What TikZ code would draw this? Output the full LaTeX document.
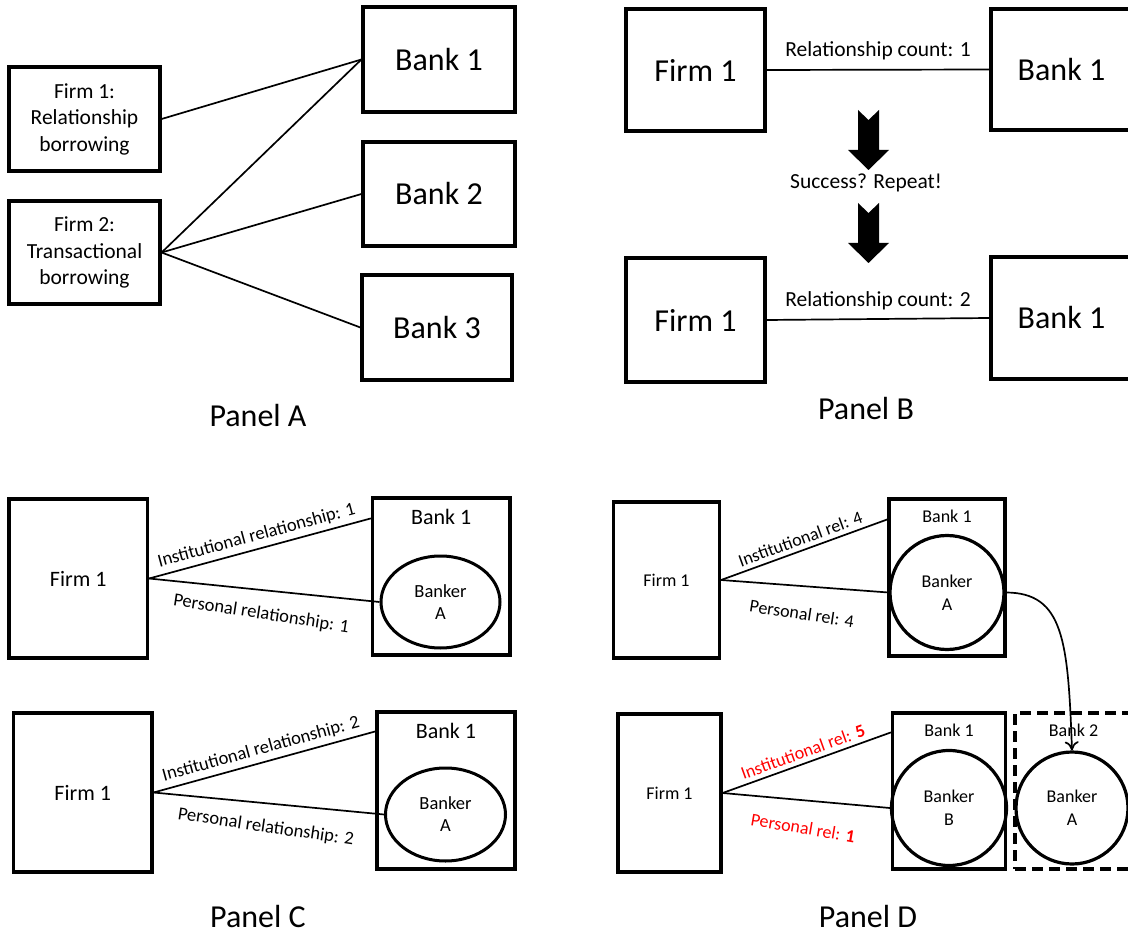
\documentclass[tikz,border=0pt]{standalone}
\usepackage{fontspec}
\setmainfont{Carlito}
\usetikzlibrary{arrows,arrows.meta,shapes.geometric}

\begin{document}
\begin{tikzpicture}[x=1pt, y=-1pt,
  box/.style={draw, line width=3.2pt, rectangle, align=center, inner sep=0pt},
  banker/.style={draw, line width=3pt, ellipse, align=center, inner sep=0pt},
  person/.style={draw, line width=3.2pt, circle, align=center, inner sep=0pt},
  link/.style={line width=1.7pt},
  bigtext/.style={font=\fontsize{32}{38}\selectfont},
  midtext/.style={font=\fontsize{21.5}{26.5}\selectfont},
  ctext/.style={font=\fontsize{22}{26}\selectfont},
  smalltext/.style={font=\fontsize{18.5}{22}\selectfont},
  dtext/.style={font=\fontsize{18}{23}\selectfont}]

\useasboundingbox (0,0) rectangle (1128,936);

\node[box, midtext, minimum width=151, minimum height=104] (firmA1) at (84.5,119) {Firm 1:\\Relationship\\borrowing};
\node[box, midtext, minimum width=151, minimum height=103] (firmA2) at (84.5,252.5) {Firm 2:\\Transactional\\borrowing};
\node[box, bigtext, minimum width=152, minimum height=105] (bankA1) at (439,59.5) {Bank 1};
\node[box, bigtext, minimum width=152, minimum height=104] (bankA2) at (439,194) {Bank 2};
\node[box, bigtext, minimum width=150, minimum height=105] (bankA3) at (437,327.5) {Bank 3};
\draw[link] (firmA1.east) -- (bankA1.west);
\draw[link] (firmA2.east) -- (bankA1.west);
\draw[link] (firmA2.east) -- (bankA2.west);
\draw[link] (firmA2.east) -- (bankA3.west);
\node[bigtext, inner sep=0pt] (panelA) at (258,416) {Panel A};

\node[box, bigtext, minimum width=139, minimum height=122] (firmB1) at (695.5,70) {Firm 1};
\node[box, bigtext, minimum width=141, minimum height=121] (bankB1) at (1061.5,69.5) {Bank 1};
\node[box, bigtext, minimum width=139, minimum height=124] (firmB2) at (695.5,320) {Firm 1};
\node[box, bigtext, minimum width=141, minimum height=122] (bankB2) at (1061.5,318) {Bank 1};
\draw[link] (firmB1.east) -- (bankB1.west) node[midway, above=6pt, midtext] {Relationship count: 1};
\draw[link] (firmB2.east) -- (bankB2.west) node[midway, above=5pt, midtext] {Relationship count: 2};
\foreach \t in {110,203}
  \fill (858,\t) -- (868.5,\t+10) -- (879,\t) -- (879,\t+40) -- (889,\t+40) -- (868.5,\t+60)
    -- (848,\t+40) -- (858,\t+40) -- cycle;
\node[midtext] (repeat) at (866,183) {Success? Repeat!};
\node[bigtext, inner sep=0pt] (panelB) at (866,409) {Panel B};

\node[box, ctext, minimum width=138.5, minimum height=159] (firmC1) at (78.25,578.5) {Firm 1};
\node[box, minimum width=137.5, minimum height=157,
  label={[ctext, anchor=center, yshift=-21pt]north:Bank 1}] (bankC1) at (441.25,576.5) {};
\node[banker, smalltext, minimum width=119, minimum height=92] (bankerC1) at (440.5,602) {Banker\\A};
\draw[link] (firmC1.east) -- ([yshift=-22pt]bankC1.north west)
  node[midway, sloped, above=1pt, smalltext] {Institutional relationship: 1};
\draw[link] (firmC1.east) -- (bankerC1.west)
  node[midway, sloped, below=12pt, rotate=-3, smalltext] {Personal relationship: 1};

\node[box, ctext, minimum width=138.5, minimum height=159] (firmC2) at (82.75,792.5) {Firm 1};
\node[box, minimum width=138, minimum height=157,
  label={[ctext, anchor=center, yshift=-21pt]north:Bank 1}] (bankC2) at (446,790.5) {};
\node[banker, smalltext, minimum width=120, minimum height=93] (bankerC2) at (445.5,814.5) {Banker\\A};
\draw[link] (firmC2.east) -- ([yshift=-21pt]bankC2.north west)
  node[midway, sloped, above=1pt, smalltext] {Institutional relationship: 2};
\draw[link] (firmC2.east) -- (bankerC2.west)
  node[midway, sloped, below=12pt, rotate=-3, smalltext] {Personal relationship: 2};
\node[bigtext, inner sep=0pt] (panelC) at (258,917) {Panel C};

\node[box, dtext, minimum width=106, minimum height=156] (firmD1) at (666.5,580) {Firm 1};
\node[box, minimum width=116, minimum height=157,
  label={[dtext, anchor=center, yshift=-19pt]north:Bank 1}] (bankD1) at (947,577.5) {};
\node[person, dtext, minimum size=114] (bankerD1) at (947,592.5) {Banker\\A};
\draw[link] (firmD1.east) -- ([yshift=-22pt]bankD1.north west)
  node[midway, sloped, above=1pt, dtext] {Institutional rel: 4};
\draw[link] (firmD1.east) -- (bankerD1.west)
  node[midway, sloped, below=17pt, rotate=-4.5, dtext] {Personal rel: 4};

\node[box, dtext, minimum width=103, minimum height=158] (firmD2) at (669.5,793) {Firm 1};
\node[box, minimum width=113, minimum height=156,
  label={[dtext, anchor=center, yshift=-19pt]north:Bank 1}] (bankD2) at (949,791) {};
\node[person, dtext, minimum size=115] (bankerD2) at (949,808) {Banker\\B};
\node[box, dash pattern=on 11pt off 6pt, minimum width=117, minimum height=156,
  label={[dtext, anchor=center, yshift=-19pt]north:Bank 2}] (bankD3) at (1073.5,791) {};
\node[person, dtext, minimum size=112] (bankerD3) at (1072,808) {Banker\\A};
\draw[link] (firmD2.east) -- ([yshift=-21pt]bankD2.north west)
  node[midway, sloped, above=1pt, dtext, text=red] {Institutional rel: \textbf{5}};
\draw[link] (firmD2.east) -- (bankerD2.west)
  node[midway, sloped, below=17pt, rotate=-4.5, dtext, text=red] {Personal rel: \textbf{1}};
\draw[link, -{To[length=9pt, width=14pt]}] (bankerD1.east) .. controls +(58,0) and +(-4,-110) .. (bankerD3.north);
\node[bigtext, inner sep=0pt] (panelD) at (868,917) {Panel D};

\end{tikzpicture}
\end{document}
